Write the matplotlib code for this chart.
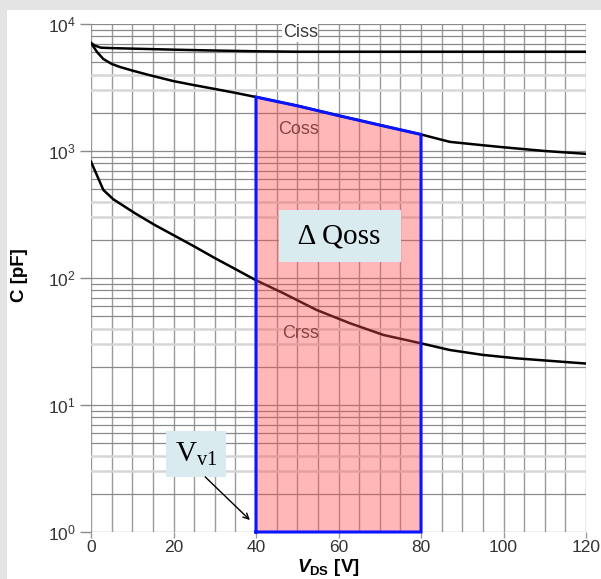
import numpy as np
import matplotlib
matplotlib.use("Agg")
import matplotlib.pyplot as plt
from matplotlib.patches import Rectangle

# data (V in volts, C in pF)
v_ciss = [0, 1, 2.4, 5, 10, 20, 30, 40, 50, 60, 80, 100, 120]
c_ciss = [7080, 6750, 6510, 6460, 6400, 6280, 6180, 6100, 6050, 6050, 6050, 6050, 6050]

v_coss = [0, 1.5, 3, 5, 7, 10, 14, 20, 25, 30, 35, 40, 50, 60, 70, 80, 84, 87, 95, 100, 110, 120]
c_coss = [7080, 6000, 5300, 4850, 4590, 4300, 3970, 3550, 3300, 3080, 2870, 2660,
          2270, 1900, 1600, 1350, 1250, 1180, 1110, 1070, 1000, 950]

v_crss = [0, 3, 5.4, 10.7, 15.5, 20.4, 25.2, 30.1, 34.9, 40, 46.6, 54.7, 62.8, 70.9,
          80, 87, 95, 103.2, 120]
c_crss = [824, 493, 417, 323, 261, 214, 176, 143, 118, 96, 76, 56, 44, 35.6,
          30.6, 27.1, 24.8, 23.3, 21.2]

v_low, v_high = 40, 80   # integration window for delta Qoss
x_ticks = [0, 20, 40, 60, 80, 100, 120]

plt.rcParams['font.family'] = ['Liberation Sans', 'DejaVu Sans']
plt.rcParams['mathtext.fontset'] = 'custom'
plt.rcParams['mathtext.rm'] = 'Liberation Serif'
plt.rcParams['mathtext.it'] = 'Liberation Sans:italic:bold'
plt.rcParams['mathtext.bf'] = 'Liberation Sans:bold'

fig = plt.figure(figsize=(6.01, 5.79), dpi=100, facecolor='#e4e4e4')
# white panel inside the grey frame
fig.patches.append(Rectangle((7 / 601, 0), 1, 1 - 10 / 579, transform=fig.transFigure,
                             facecolor='white', edgecolor='none', zorder=-5))

ax = fig.add_axes([91 / 601, 47 / 579, 495 / 601, 508 / 579])
ax.set_zorder(2)
ax.set_facecolor('white')
ax.set_yscale('log')
ax.set_xlim(0, 120)
ax.set_ylim(1, 1e4)

# grid: 5 V steps, log minors (3 and 4 drawn lighter like the original)
for v in np.arange(0, 121, 5):
    ax.axvline(v, color='#9a9a9a', lw=1.0, zorder=1)
for dec in range(4):
    for m in range(1, 10):
        y = m * 10 ** dec
        light = m in (3, 4)
        ax.axhline(y, color='#d6d6d6' if light else '#8a8a8a',
                   lw=1.8 if light else 0.9, zorder=1)
ax.axhline(1e4, color='#8a8a8a', lw=0.9, zorder=1)

for s in ax.spines.values():
    s.set_visible(False)

ax.plot(v_ciss, c_ciss, color='black', lw=1.8, zorder=3)
ax.plot(v_coss, c_coss, color='black', lw=1.8, zorder=3)
ax.plot(v_crss, c_crss, color='black', lw=1.8, zorder=3)

ax.text(50.7, 10 ** 3.93, 'Ciss', fontsize=13, color='#3a3a3a', ha='center', va='center',
        zorder=4, bbox=dict(facecolor='white', edgecolor='none', pad=0.5))
ax.text(50.2, 10 ** 3.17, 'Coss', fontsize=13, color='#3a3a3a', ha='center', va='center', zorder=4)
ax.text(50.7, 10 ** 1.56, 'Crss', fontsize=13, color='#3a3a3a', ha='center', va='center', zorder=4)

# shaded area under Coss between v_low and v_high
vc = np.array(v_coss, dtype=float)
cc = np.array(c_coss, dtype=float)
sel = (vc >= v_low) & (vc <= v_high)
ax.fill_between(vc[sel], 1, cc[sel], facecolor=(1, 0.3, 0.3), alpha=0.4,
                edgecolor='none', zorder=5)
ox = np.concatenate([[v_low], vc[sel], [v_high, v_low]])
oy = np.concatenate([[1], cc[sel], [1, 1]])
ax.plot(ox, oy, color='#0a14ff', lw=2.2, zorder=6, clip_on=False, solid_joinstyle='miter')

box = dict(boxstyle='square,pad=0.45', facecolor='#daebf0', edgecolor='none')
ax.text(60.4, 10 ** 2.33, ' \u0394 Qoss ', fontsize=21, family='Liberation Serif',
        ha='center', va='center', bbox=box, zorder=7)
ax.text(25.5, 10 ** 0.614, r'$\mathrm{V}_{\mathrm{v1}}$', fontsize=21,
        ha='center', va='center', zorder=7,
        bbox=dict(boxstyle='square,pad=0.3', facecolor='#daebf0', edgecolor='none'))
ax.annotate('', xy=(39.0, 10 ** 0.079), xytext=(27.2, 10 ** 0.449),
            arrowprops=dict(arrowstyle='->', color='black', lw=1.0), zorder=7)

ax.set_xticks(x_ticks)
ax.set_yticks([1, 10, 100, 1000, 10000])
ax.yaxis.set_minor_locator(matplotlib.ticker.NullLocator())
ax.tick_params(axis='y', length=8, width=1, color='#8a8a8a', labelsize=12.5,
               labelcolor='#333333', pad=3)
ax.tick_params(axis='x', length=4, width=1, color='#9a9a9a', labelsize=12.5,
               labelcolor='#333333', pad=2)

fig.text(20 / 601, 1 - 275 / 579, 'C [pF]', rotation=90, fontsize=13.5, fontweight='bold',
         ha='center', va='center', color='black')
fig.text(328 / 601, 1 / 579, r'$\mathit{V}_{\mathbf{DS}}\ \mathbf{[V]}$', fontsize=13.5,
         ha='center', va='bottom', color='black')

fig.savefig('out.png', dpi=100, facecolor=fig.get_facecolor())
